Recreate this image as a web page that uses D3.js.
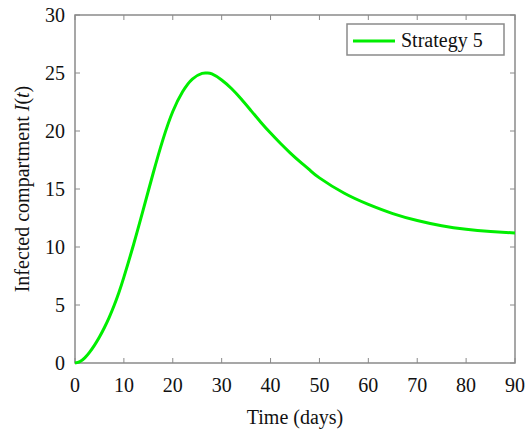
<!DOCTYPE html>
<html>
<head>
<meta charset="utf-8">
<script src="https://cdn.jsdelivr.net/npm/d3@7"></script>
<style>
  body { margin: 0; background: #fff; }
  svg { display: block; }
</style>
</head>
<body>
<div id="chart"></div>
<script>
// Values
const days = [0, 1, 2, 3, 4, 5, 6, 7, 8, 9, 10, 12, 14, 16, 18, 20, 22, 24, 26, 27, 28, 30, 32, 34, 36, 38, 40, 42, 44, 46, 48, 50, 55, 60, 65, 70, 75, 80, 85, 90];
const infected = [0, 0.12, 0.44, 0.94, 1.54, 2.24, 3.04, 3.94, 4.95, 6.1, 7.4, 10.24, 13.28, 16.38, 19.28, 21.68, 23.38, 24.48, 24.97, 25.0, 24.92, 24.4, 23.66, 22.76, 21.76, 20.76, 19.82, 18.94, 18.12, 17.36, 16.64, 15.96, 14.65, 13.67, 12.88, 12.28, 11.83, 11.53, 11.34, 11.2];
const xTicks = [0, 10, 20, 30, 40, 50, 60, 70, 80, 90];
const yTicks = [0, 5, 10, 15, 20, 25, 30];
const seriesName = 'Strategy 5';

const W = 526, H = 437;
const M = { top: 15, right: 11, bottom: 74, left: 75 };
const FONT = '"Liberation Serif", "Times New Roman", serif';
const AXIS = '#8a8a8a';
const GREEN = '#00ee00';

const svg = d3.select('#chart').append('svg')
  .attr('width', W).attr('height', H);

const x = d3.scaleLinear().domain([0, 90]).range([M.left, W - M.right]);
const y = d3.scaleLinear().domain([0, 30]).range([H - M.bottom, M.top]);

// box frame
svg.append('rect')
  .attr('x', x(0)).attr('y', y(30))
  .attr('width', x(90) - x(0)).attr('height', y(0) - y(30))
  .attr('fill', 'none').attr('stroke', AXIS).attr('stroke-width', 1.5);

// inward ticks on all four sides
const tickLen = 5;
xTicks.forEach(t => {
  svg.append('line').attr('x1', x(t)).attr('x2', x(t))
    .attr('y1', y(0)).attr('y2', y(0) - tickLen).attr('stroke', AXIS);
  svg.append('line').attr('x1', x(t)).attr('x2', x(t))
    .attr('y1', y(30)).attr('y2', y(30) + tickLen).attr('stroke', AXIS);
  svg.append('text')
    .attr('x', x(t)).attr('y', y(0) + 29)
    .attr('text-anchor', 'middle')
    .attr('font-family', FONT).attr('font-size', 20).attr('fill', '#111')
    .text(t);
});
yTicks.forEach(v => {
  svg.append('line').attr('x1', x(0)).attr('x2', x(0) + tickLen)
    .attr('y1', y(v)).attr('y2', y(v)).attr('stroke', AXIS);
  svg.append('line').attr('x1', x(90)).attr('x2', x(90) - tickLen)
    .attr('y1', y(v)).attr('y2', y(v)).attr('stroke', AXIS);
  svg.append('text')
    .attr('x', x(0) - 10).attr('y', y(v) + 7)
    .attr('text-anchor', 'end')
    .attr('font-family', FONT).attr('font-size', 20).attr('fill', '#111')
    .text(v);
});

// axis titles
svg.append('text')
  .attr('x', (x(0) + x(90)) / 2).attr('y', 424)
  .attr('text-anchor', 'middle')
  .attr('font-family', FONT).attr('font-size', 20).attr('fill', '#111')
  .text('Time (days)');

const yl = svg.append('text')
  .attr('transform', `translate(29, ${(y(0) + y(30)) / 2}) rotate(-90)`)
  .attr('text-anchor', 'middle')
  .attr('font-family', FONT).attr('font-size', 20).attr('fill', '#111');
yl.append('tspan').text('Infected compartment ');
yl.append('tspan').attr('font-style', 'italic').text('I');
yl.append('tspan').text('(');
yl.append('tspan').attr('font-style', 'italic').text('t');
yl.append('tspan').text(')');

// curve
const line = d3.line()
  .x((d, i) => x(days[i]))
  .y(d => y(d))
  .curve(d3.curveNatural);

svg.append('path')
  .datum(infected)
  .attr('d', line)
  .attr('fill', 'none')
  .attr('stroke', GREEN)
  .attr('stroke-width', 3)
  .attr('stroke-linejoin', 'round');

// legend
const lg = svg.append('g');
lg.append('rect')
  .attr('x', 347).attr('y', 24).attr('width', 157).attr('height', 31)
  .attr('fill', '#fff').attr('stroke', AXIS).attr('stroke-width', 1.5);
lg.append('line')
  .attr('x1', 353).attr('x2', 395).attr('y1', 41).attr('y2', 41)
  .attr('stroke', GREEN).attr('stroke-width', 3);
lg.append('text')
  .attr('x', 401).attr('y', 47)
  .attr('font-family', FONT).attr('font-size', 20).attr('fill', '#111')
  .text(seriesName);
</script>
</body>
</html>
